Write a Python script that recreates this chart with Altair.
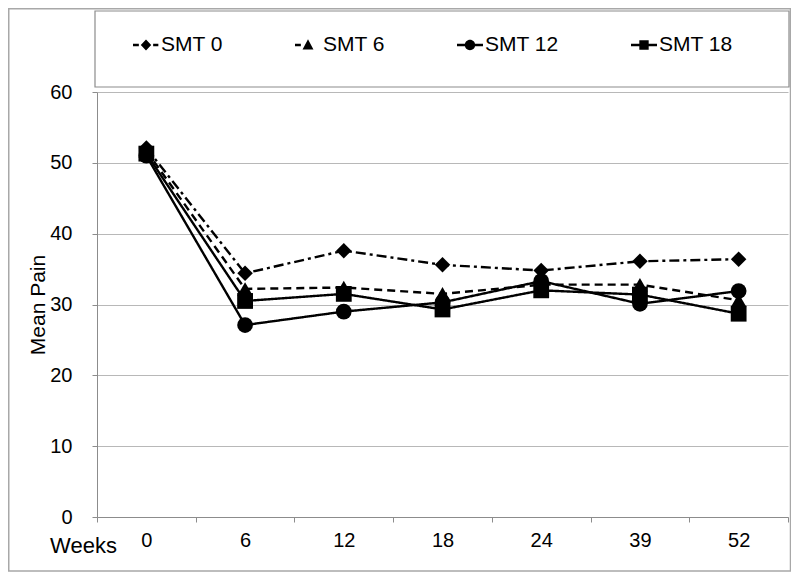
import altair as alt
import pandas as pd

weeks = ["0", "6", "12", "18", "24", "39", "52"]
series = ["SMT 0", "SMT 6", "SMT 12", "SMT 18"]
smt0 = [52.1, 34.4, 37.6, 35.6, 34.8, 36.1, 36.4]
smt6 = [51.7, 32.2, 32.4, 31.5, 32.8, 32.8, 30.6]
smt12 = [51.0, 27.1, 29.0, 30.3, 33.3, 30.1, 31.9]
smt18 = [51.3, 30.5, 31.5, 29.3, 32.0, 31.4, 28.7]
vals = {"SMT 0": smt0, "SMT 6": smt6, "SMT 12": smt12, "SMT 18": smt18}

rows = [{"week": w, "series": s, "pain": v} for s in series for w, v in zip(weeks, vals[s])]
df = pd.DataFrame(rows)

FONT = "Liberation Sans"
GRAY = "#8c8c8c"
W, H = 691, 425

dashes = [[10, 4, 3, 4], [8, 5], [1, 0], [1, 0]]
shapes = ["diamond", "triangle-up", "circle", "square"]
sizes = [240, 250, 220, 200]
legend_paths = [
    "M-1,-0.1H-0.55V0.1H-1Z M0.55,-0.1H0.95V0.1H0.55Z M0,-0.42L0.4,0L0,0.42L-0.4,0Z",
    "M-1,-0.1H-0.55V0.1H-1Z M0,-0.45L0.42,0.35H-0.42Z",
    "M-1,-0.1H-0.38V0.1H-1Z M0.38,-0.1H1V0.1H0.38Z M0.4,0A0.4,0.4 0 1,1 -0.4,0A0.4,0.4 0 1,1 0.4,0Z",
    "M-1,-0.1H-0.36V0.1H-1Z M0.36,-0.1H1V0.1H0.36Z M-0.36,-0.36H0.36V0.36H-0.36Z",
]

x_enc = alt.X(
    "week:N",
    sort=weeks,
    bandPosition=0.5,
    scale=alt.Scale(type="band", domain=weeks, paddingInner=0, paddingOuter=0),
    axis=alt.Axis(
        title="Weeks",
        titleX=-14,
        titleY=28,
        titleAlign="center",
        titleBaseline="middle",
        titleFontSize=22,
        labelAngle=0,
        labelFontSize=20,
        labelPadding=8,
        tickBand="extent",
        tickSize=5,
        grid=False,
    ),
)
y_enc = alt.Y(
    "pain:Q",
    scale=alt.Scale(domain=[0, 60], nice=False),
    axis=alt.Axis(
        values=[0, 10, 20, 30, 40, 50, 60],
        title="Mean Pain",
        titleX=-59,
        titleY=H / 2,
        titleAngle=270,
        titleAlign="center",
        titleBaseline="middle",
        titleFontSize=21,
        labelFontSize=20,
        labelPadding=20,
        tickSize=5,
        grid=True,
    ),
)

lines = alt.Chart(df).mark_line(strokeWidth=2.4, color="black").encode(
    x=x_enc,
    y=y_enc,
    strokeDash=alt.StrokeDash(
        "series:N", scale=alt.Scale(domain=series, range=dashes), legend=None
    ),
    detail="series:N",
)

points = alt.Chart(df).mark_point(filled=True, color="black", opacity=1).encode(
    x=x_enc,
    y=y_enc,
    shape=alt.Shape("series:N", scale=alt.Scale(domain=series, range=shapes), legend=None),
    size=alt.Size("series:N", scale=alt.Scale(domain=series, range=sizes), legend=None),
)

legend_layer = (
    alt.Chart(df)
    .transform_filter("false")
    .mark_point(filled=True, color="black", opacity=1)
    .encode(
        x=x_enc,
        y=y_enc,
        shape=alt.Shape(
            "series:N",
            scale=alt.Scale(domain=series, range=legend_paths),
            legend=alt.Legend(
                title=None,
                orient="none",
                legendX=36,
                legendY=-60,
                direction="horizontal",
                columns=4,
                columnPadding=72,
                symbolSize=676,
                symbolStrokeWidth=0,
                symbolFillColor="black",
                symbolOpacity=1,
                labelFont=FONT,
                labelFontSize=21,
                labelColor="black",
                labelOffset=2,
                padding=0,
            ),
        ),
    )
)

box_df = pd.DataFrame({"k": [0]})
outer_frame = alt.Chart(box_df).mark_rect(
    fill="white", fillOpacity=0, stroke="#a8a8a8", strokeWidth=1.5
).encode(x=alt.value(-88.25), x2=alt.value(W + 2.5), y=alt.value(-83.25), y2=alt.value(H + 54))
legend_box = alt.Chart(box_df).mark_rect(
    fill="white", fillOpacity=0, stroke="#8c8c8c", strokeWidth=1.2
).encode(x=alt.value(-2), x2=alt.value(W + 1), y=alt.value(-81), y2=alt.value(-5))

chart = (
    alt.layer(outer_frame, legend_box, lines, points, legend_layer)
    .resolve_scale(shape="independent")
    .properties(
        width=W,
        height=H,
        autosize=alt.AutoSizeParams(type="none"),
        padding={"left": 89, "top": 84, "right": 3, "bottom": 55},
        background="white",
    )
    .configure_view(stroke=None)
    .configure_axis(
        domainColor=GRAY,
        tickColor=GRAY,
        gridColor="#b8b8b8",
        gridWidth=1,
        domainWidth=1,
        labelFont=FONT,
        titleFont=FONT,
        labelColor="black",
        titleColor="black",
        titleFontWeight="normal",
    )
)

chart.save("out.html", embed_options={"renderer": "svg", "actions": False})
